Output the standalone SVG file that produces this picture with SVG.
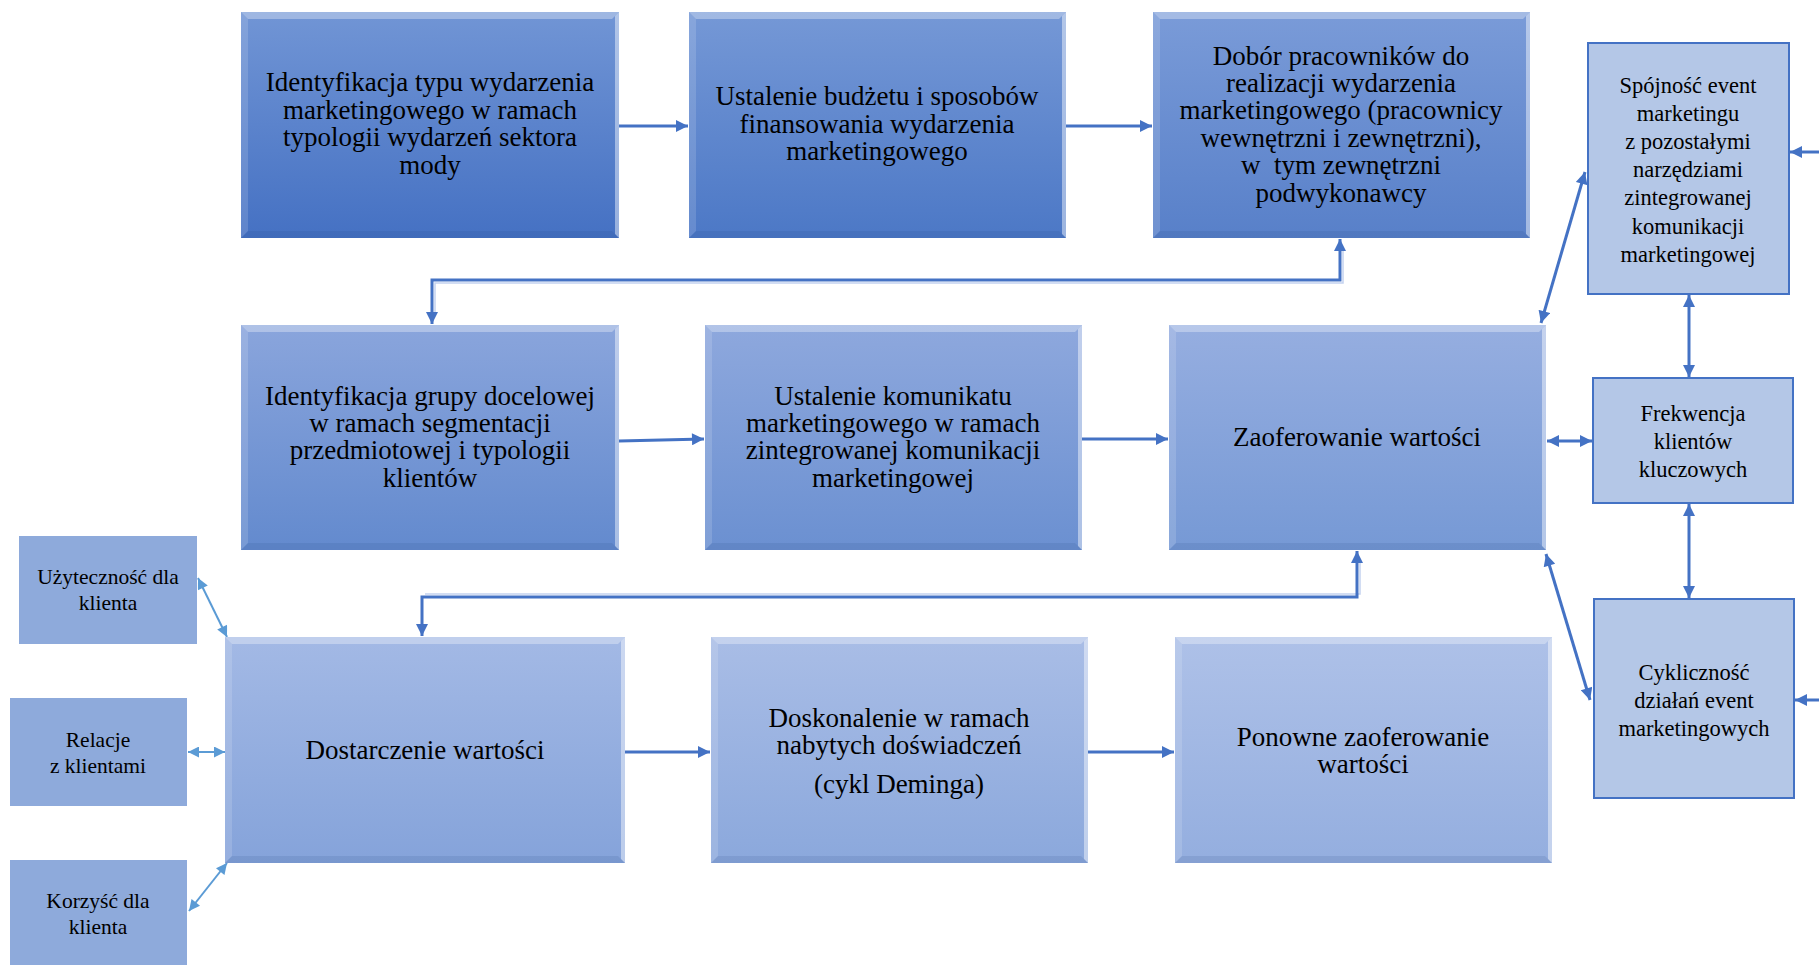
<svg xmlns="http://www.w3.org/2000/svg" width="1819" height="965" viewBox="0 0 1819 965">
  <style>
    .t { font-family: "Liberation Serif", "Times New Roman", serif; fill: #000; text-anchor: middle; }
    .big { font-size: 27px; }
    .side { font-size: 22.5px; }
    .left { font-size: 21.5px; }
    .bt { fill: #ffffff; fill-opacity: 0.32; }
    .bl { fill: #ffffff; fill-opacity: 0.14; }
    .br { fill: #ffffff; fill-opacity: 0.45; }
    .bb { fill: #1f3f7a; fill-opacity: 0.12; }
    .sideBox { fill: #b4c7e7; stroke: #4472c4; stroke-width: 2; }
    .leftBox { fill: #8eaadb; }
    .conn { fill: none; stroke: #4472c4; stroke-width: 3; }
    .connL { fill: none; stroke: #5b9bd5; stroke-width: 2; }
    .glow { fill: none; stroke: #c3d2ef; stroke-width: 1.5; }
  </style>
  <defs>
    <linearGradient id="g1" x1="0" y1="0" x2="0" y2="1"><stop offset="0" stop-color="#7195d5"/><stop offset="1" stop-color="#4571c3"/></linearGradient>
    <linearGradient id="g2" x1="0" y1="0" x2="0" y2="1"><stop offset="0" stop-color="#7598d6"/><stop offset="1" stop-color="#4c78c6"/></linearGradient>
    <linearGradient id="g3" x1="0" y1="0" x2="0" y2="1"><stop offset="0" stop-color="#7a9bd8"/><stop offset="1" stop-color="#5880c9"/></linearGradient>
    <linearGradient id="g4" x1="0" y1="0" x2="0" y2="1"><stop offset="0" stop-color="#8aa5dc"/><stop offset="1" stop-color="#638ace"/></linearGradient>
    <linearGradient id="g5" x1="0" y1="0" x2="0" y2="1"><stop offset="0" stop-color="#8ea8dd"/><stop offset="1" stop-color="#6b90d1"/></linearGradient>
    <linearGradient id="g6" x1="0" y1="0" x2="0" y2="1"><stop offset="0" stop-color="#96aee0"/><stop offset="1" stop-color="#7699d5"/></linearGradient>
    <linearGradient id="g7" x1="0" y1="0" x2="0" y2="1"><stop offset="0" stop-color="#a3b9e5"/><stop offset="1" stop-color="#85a3da"/></linearGradient>
    <linearGradient id="g8" x1="0" y1="0" x2="0" y2="1"><stop offset="0" stop-color="#a9bde6"/><stop offset="1" stop-color="#8ba8dc"/></linearGradient>
    <linearGradient id="g9" x1="0" y1="0" x2="0" y2="1"><stop offset="0" stop-color="#aec1e8"/><stop offset="1" stop-color="#94aedf"/></linearGradient>
    <marker id="ah" viewBox="0 0 10 10" refX="10" refY="5" markerWidth="13" markerHeight="12" markerUnits="userSpaceOnUse" orient="auto-start-reverse">
      <path d="M0,0 L10,5 L0,10 z" fill="#4472c4"/>
    </marker>
    <marker id="ahL" viewBox="0 0 10 10" refX="10" refY="5" markerWidth="12" markerHeight="11" markerUnits="userSpaceOnUse" orient="auto-start-reverse">
      <path d="M0,0 L10,5 L0,10 z" fill="#5b9bd5"/>
    </marker>
  </defs>

  <rect width="1819" height="965" fill="#ffffff"/>

  <!-- connectors -->
  <g id="connectors">
    <path class="conn" d="M619,126 H688" marker-end="url(#ah)"/>
    <path class="conn" d="M1066,126 H1152" marker-end="url(#ah)"/>
    <path class="glow" d="M1343,250 V283 H435 V312"/>
    <path class="conn" d="M1340,239 V280 H432 V324" marker-start="url(#ah)" marker-end="url(#ah)"/>
    <path class="conn" d="M619,441 L704,439" marker-end="url(#ah)"/>
    <path class="conn" d="M1082,439 H1168" marker-end="url(#ah)"/>
    <path class="glow" d="M1360,562 V594 H425"/>
    <path class="conn" d="M1357,551 V597 H422 V636" marker-start="url(#ah)" marker-end="url(#ah)"/>
    <path class="conn" d="M625,752 H710" marker-end="url(#ah)"/>
    <path class="conn" d="M1088,752 H1174" marker-end="url(#ah)"/>
    <path class="conn" d="M1541,323 L1585,172" marker-start="url(#ah)" marker-end="url(#ah)"/>
    <path class="conn" d="M1547,441 H1592" marker-start="url(#ah)" marker-end="url(#ah)"/>
    <path class="conn" d="M1546,554 L1590,700" marker-start="url(#ah)" marker-end="url(#ah)"/>
    <path class="conn" d="M1689,295 V377" marker-start="url(#ah)" marker-end="url(#ah)"/>
    <path class="conn" d="M1689,504 V598" marker-start="url(#ah)" marker-end="url(#ah)"/>
    <path class="conn" d="M1819,152 H1790" marker-end="url(#ah)"/>
    <path class="conn" d="M1819,700 H1795" marker-end="url(#ah)"/>
    <path class="connL" d="M198,578 L227,637" marker-start="url(#ahL)" marker-end="url(#ahL)"/>
    <path class="connL" d="M188,752 H225" marker-start="url(#ahL)" marker-end="url(#ahL)"/>
    <path class="connL" d="M189,911 L227,863" marker-start="url(#ahL)" marker-end="url(#ahL)"/>
  </g>

  <!-- row 1 -->
  <g id="n-identyfikacja-typu">
    <rect x="241" y="12" width="378" height="226" fill="url(#g1)"/>
    <polygon class="bt" points="241,12 619,12 612,19 248,19"/>
    <polygon class="bl" points="241,12 248,19 248,231 241,238"/>
    <polygon class="br" points="619,12 619,238 615,234 615,16"/>
    <polygon class="bb" points="241,238 619,238 612,231 248,231"/>
    <text class="t big" x="430" y="91">Identyfikacja typu wydarzenia</text>
    <text class="t big" x="430" y="119">marketingowego w ramach</text>
    <text class="t big" x="430" y="146">typologii wydarzeń sektora</text>
    <text class="t big" x="430" y="174">mody</text>
  </g>
  <g id="n-budzet">
    <rect x="689" y="12" width="377" height="226" fill="url(#g2)"/>
    <polygon class="bt" points="689,12 1066,12 1059,19 696,19"/>
    <polygon class="bl" points="689,12 696,19 696,231 689,238"/>
    <polygon class="br" points="1066,12 1066,238 1062,234 1062,16"/>
    <polygon class="bb" points="689,238 1066,238 1059,231 696,231"/>
    <text class="t big" x="877" y="105">Ustalenie budżetu i sposobów</text>
    <text class="t big" x="877" y="133">finansowania wydarzenia</text>
    <text class="t big" x="877" y="160">marketingowego</text>
  </g>
  <g id="n-dobor">
    <rect x="1153" y="12" width="377" height="226" fill="url(#g3)"/>
    <polygon class="bt" points="1153,12 1530,12 1523,19 1160,19"/>
    <polygon class="bl" points="1153,12 1160,19 1160,231 1153,238"/>
    <polygon class="br" points="1530,12 1530,238 1526,234 1526,16"/>
    <polygon class="bb" points="1153,238 1530,238 1523,231 1160,231"/>
    <text class="t big" x="1341" y="65">Dobór pracowników do</text>
    <text class="t big" x="1341" y="92">realizacji wydarzenia</text>
    <text class="t big" x="1341" y="119">marketingowego (pracownicy</text>
    <text class="t big" x="1341" y="147">wewnętrzni i zewnętrzni),</text>
    <text class="t big" x="1341" y="174">w&#160; tym zewnętrzni</text>
    <text class="t big" x="1341" y="202">podwykonawcy</text>
  </g>
  <g id="n-spojnosc">
    <rect class="sideBox" x="1588" y="43" width="201" height="251"/>
    <text class="t side" x="1688" y="93">Spójność event</text>
    <text class="t side" x="1688" y="121">marketingu</text>
    <text class="t side" x="1688" y="149">z pozostałymi</text>
    <text class="t side" x="1688" y="177">narzędziami</text>
    <text class="t side" x="1688" y="205">zintegrowanej</text>
    <text class="t side" x="1688" y="234">komunikacji</text>
    <text class="t side" x="1688" y="262">marketingowej</text>
  </g>

  <!-- row 2 -->
  <g id="n-grupa-docelowa">
    <rect x="241" y="325" width="378" height="225" fill="url(#g4)"/>
    <polygon class="bt" points="241,325 619,325 612,332 248,332"/>
    <polygon class="bl" points="241,325 248,332 248,543 241,550"/>
    <polygon class="br" points="619,325 619,550 615,546 615,329"/>
    <polygon class="bb" points="241,550 619,550 612,543 248,543"/>
    <text class="t big" x="430" y="405">Identyfikacja grupy docelowej</text>
    <text class="t big" x="430" y="432">w ramach segmentacji</text>
    <text class="t big" x="430" y="459">przedmiotowej i typologii</text>
    <text class="t big" x="430" y="487">klientów</text>
  </g>
  <g id="n-komunikat">
    <rect x="705" y="325" width="377" height="225" fill="url(#g5)"/>
    <polygon class="bt" points="705,325 1082,325 1075,332 712,332"/>
    <polygon class="bl" points="705,325 712,332 712,543 705,550"/>
    <polygon class="br" points="1082,325 1082,550 1078,546 1078,329"/>
    <polygon class="bb" points="705,550 1082,550 1075,543 712,543"/>
    <text class="t big" x="893" y="405">Ustalenie komunikatu</text>
    <text class="t big" x="893" y="432">marketingowego w ramach</text>
    <text class="t big" x="893" y="459">zintegrowanej komunikacji</text>
    <text class="t big" x="893" y="487">marketingowej</text>
  </g>
  <g id="n-zaoferowanie">
    <rect x="1169" y="325" width="377" height="225" fill="url(#g6)"/>
    <polygon class="bt" points="1169,325 1546,325 1539,332 1176,332"/>
    <polygon class="bl" points="1169,325 1176,332 1176,543 1169,550"/>
    <polygon class="br" points="1546,325 1546,550 1542,546 1542,329"/>
    <polygon class="bb" points="1169,550 1546,550 1539,543 1176,543"/>
    <text class="t big" x="1357" y="446">Zaoferowanie wartości</text>
  </g>
  <g id="n-frekwencja">
    <rect class="sideBox" x="1593" y="378" width="200" height="125"/>
    <text class="t side" x="1693" y="421">Frekwencja</text>
    <text class="t side" x="1693" y="449">klientów</text>
    <text class="t side" x="1693" y="477">kluczowych</text>
  </g>

  <!-- row 3 -->
  <g id="n-uzytecznosc">
    <rect class="leftBox" x="19" y="536" width="178" height="108"/>
    <text class="t left" x="108" y="584">Użyteczność dla</text>
    <text class="t left" x="108" y="610">klienta</text>
  </g>
  <g id="n-relacje">
    <rect class="leftBox" x="10" y="698" width="177" height="108"/>
    <text class="t left" x="98" y="747">Relacje</text>
    <text class="t left" x="98" y="773">z klientami</text>
  </g>
  <g id="n-korzysc">
    <rect class="leftBox" x="10" y="860" width="177" height="105"/>
    <text class="t left" x="98" y="908">Korzyść dla</text>
    <text class="t left" x="98" y="934">klienta</text>
  </g>
  <g id="n-dostarczenie">
    <rect x="225" y="637" width="400" height="226" fill="url(#g7)"/>
    <polygon class="bt" points="225,637 625,637 618,644 232,644"/>
    <polygon class="bl" points="225,637 232,644 232,856 225,863"/>
    <polygon class="br" points="625,637 625,863 621,859 621,641"/>
    <polygon class="bb" points="225,863 625,863 618,856 232,856"/>
    <text class="t big" x="425" y="759">Dostarczenie wartości</text>
  </g>
  <g id="n-doskonalenie">
    <rect x="711" y="637" width="377" height="226" fill="url(#g8)"/>
    <polygon class="bt" points="711,637 1088,637 1081,644 718,644"/>
    <polygon class="bl" points="711,637 718,644 718,856 711,863"/>
    <polygon class="br" points="1088,637 1088,863 1084,859 1084,641"/>
    <polygon class="bb" points="711,863 1088,863 1081,856 718,856"/>
    <text class="t big" x="899" y="727">Doskonalenie w ramach</text>
    <text class="t big" x="899" y="754">nabytych doświadczeń</text>
    <text class="t big" x="899" y="793">(cykl Deminga)</text>
  </g>
  <g id="n-ponowne">
    <rect x="1175" y="637" width="377" height="226" fill="url(#g9)"/>
    <polygon class="bt" points="1175,637 1552,637 1545,644 1182,644"/>
    <polygon class="bl" points="1175,637 1182,644 1182,856 1175,863"/>
    <polygon class="br" points="1552,637 1552,863 1548,859 1548,641"/>
    <polygon class="bb" points="1175,863 1552,863 1545,856 1182,856"/>
    <text class="t big" x="1363" y="746">Ponowne zaoferowanie</text>
    <text class="t big" x="1363" y="773">wartości</text>
  </g>
  <g id="n-cyklicznosc">
    <rect class="sideBox" x="1594" y="599" width="200" height="199"/>
    <text class="t side" x="1694" y="680">Cykliczność</text>
    <text class="t side" x="1694" y="708">działań event</text>
    <text class="t side" x="1694" y="736">marketingowych</text>
  </g>
</svg>
